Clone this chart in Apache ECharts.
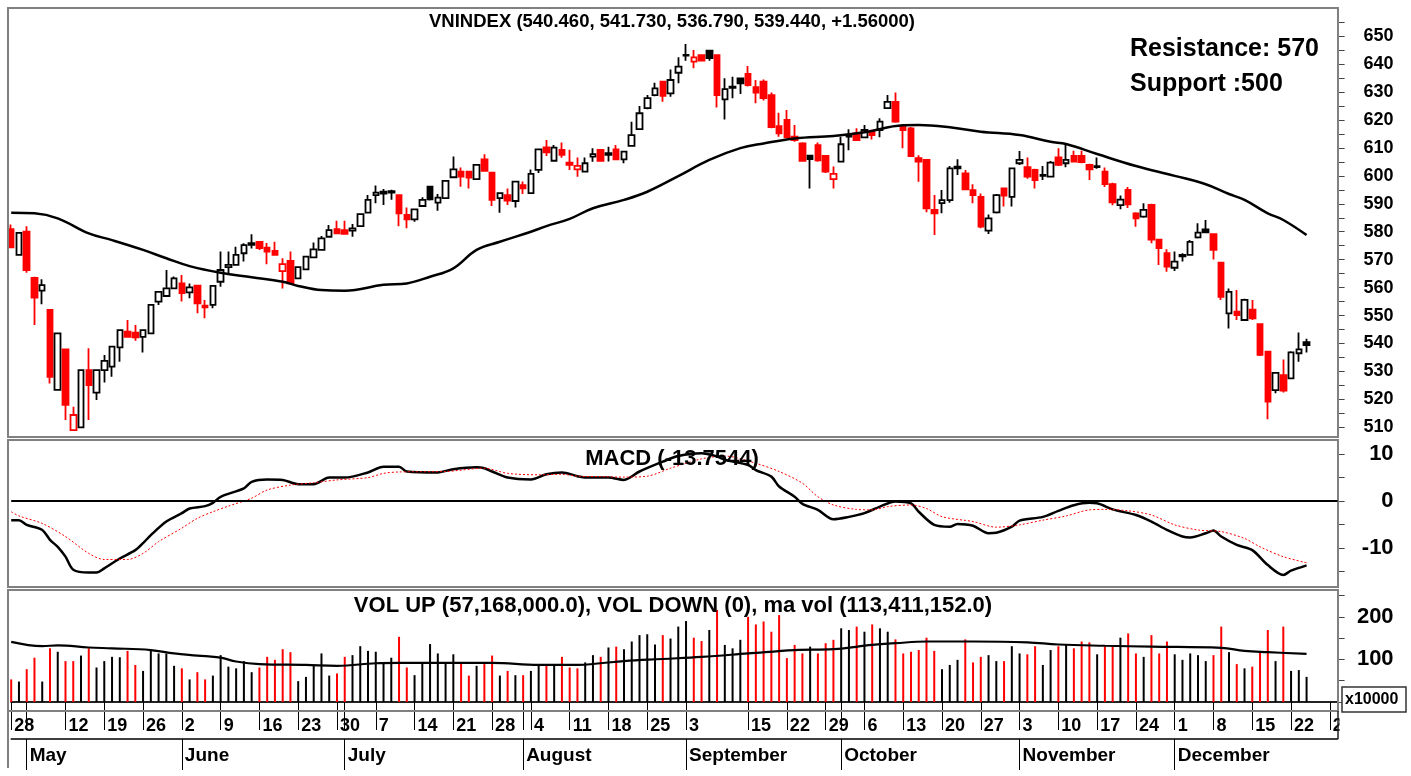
<!DOCTYPE html>
<html>
<head>
<meta charset="utf-8">
<script src="https://cdn.jsdelivr.net/npm/echarts@6/dist/echarts.min.js"></script>
<style>
  html, body { margin: 0; padding: 0; background: #fff; }
  #chart { width: 1411px; height: 776px; }
</style>
</head>
<body>
<div id="chart"></div>
<script>
// trading days per month (2014), last four of December are empty slots on the axis
const daysApr = [28, 29]
const daysMay = [5, 6, 7, 8, 9, 12, 13, 14, 15, 16, 19, 20, 21, 22, 23, 26, 27, 28, 29, 30]
const daysJun = [2, 3, 4, 5, 6, 9, 10, 11, 12, 13, 16, 17, 18, 19, 20, 23, 24, 25, 26, 27, 30]
const daysJul = [1, 2, 3, 4, 7, 8, 9, 10, 11, 14, 15, 16, 17, 18, 21, 22, 23, 24, 25, 28, 29, 30, 31]
const daysAug = [1, 4, 5, 6, 7, 8, 11, 12, 13, 14, 15, 18, 19, 20, 21, 22, 25, 26, 27, 28, 29]
const daysSep = [3, 4, 5, 8, 9, 10, 11, 12, 15, 16, 17, 18, 19, 22, 23, 24, 25, 26, 29, 30]
const daysOct = [1, 2, 3, 6, 7, 8, 9, 10, 13, 14, 15, 16, 17, 20, 21, 22, 23, 24, 27, 28, 29, 30, 31]
const daysNov = [3, 4, 5, 6, 7, 10, 11, 12, 13, 14, 17, 18, 19, 20, 21, 24, 25, 26, 27, 28]
const daysDec = [1, 2, 3, 4, 5, 8, 9, 10, 11, 12, 15, 16, 17, 18, 19, 22, 23, 24, 25, 26, 29, 30]

// week labels and month labels shown under the volume panel
const weekTicks = ['04-28', '05-12', '05-19', '05-26', '06-02', '06-09', '06-16', '06-23', '06-30',
  '07-07', '07-14', '07-21', '07-28', '08-04', '08-11', '08-18', '08-25', '09-03', '09-15', '09-22',
  '09-29', '10-06', '10-13', '10-20', '10-27', '11-03', '11-10', '11-17', '11-24', '12-01', '12-08',
  '12-15', '12-22', '12-29']
const monthTicks = ['05-05', '06-02', '07-01', '08-01', '09-03', '10-01', '11-03', '12-01']
const monthNames = ['May', 'June', 'July', 'August', 'September', 'October', 'November', 'December']

// OHLC
const openVals = [580.9, 571.7, 580.0, 563.5, 558.9, 552.0, 523.4, 537.9, 509.0, 510.0,
  530.5, 522.4, 530.5, 531.7, 538.6, 544.2, 543.9, 542.4, 543.6, 555.0,
  557.0, 559.7, 561.5, 558.3, 560.7, 553.5, 553.8, 562.1, 567.3, 568.1,
  572.3, 575.9, 576.4, 574.3, 573.1, 565.9, 569.6, 563.3, 566.5, 570.8,
  573.5, 578.2, 580.9, 580.6, 580.4, 582.0, 586.8, 593.1, 593.6, 594.0,
  593.1, 586.0, 584.4, 589.2, 596.1, 590.4, 592.0, 599.5, 601.5, 601.5,
  598.8, 605.9, 601.1, 592.0, 593.1, 591.0, 596.7, 593.8, 602.1, 610.2,
  605.4, 609.3, 604.7, 602.3, 601.5, 606.9, 609.3, 607.5, 609.5, 605.9,
  610.7, 616.7, 624.2, 628.9, 633.7, 629.5, 636.9, 643.0, 640.9, 643.2,
  644.8, 643.2, 627.4, 631.5, 634.9, 636.5, 631.7, 633.7, 628.9, 617.8,
  620.0, 614.0, 611.6, 607.2, 611.0, 607.1, 598.8, 605.1, 614.0, 615.2,
  613.8, 616.0, 616.4, 624.2, 626.5, 617.8, 617.0, 606.3, 605.7, 587.8,
  590.2, 591.3, 602.7, 600.9, 594.9, 592.5, 580.4, 586.9, 595.5, 592.5,
  604.5, 603.1, 602.1, 600.0, 599.7, 606.6, 604.5, 607.1, 607.1, 603.9,
  603.1, 601.5, 597.0, 589.5, 595.0, 586.6, 585.4, 589.6, 577.2, 572.3,
  567.1, 571.2, 571.7, 578.0, 580.8, 579.1, 568.9, 550.8, 551.4, 548.4,
  552.1, 546.9, 537.1, 523.3, 528.7, 527.5, 536.5, 540.46]
const highVals = [582.6, 579.8, 582.0, 563.9, 563.0, 552.3, 543.8, 538.1, 517.4, 530.7,
  538.3, 530.7, 535.9, 539.1, 545.0, 548.4, 546.6, 545.0, 554.0, 558.7,
  566.3, 564.0, 564.5, 561.5, 561.0, 555.6, 560.8, 572.9, 572.9, 574.6,
  575.9, 579.1, 576.6, 576.0, 576.4, 570.5, 572.9, 567.5, 571.3, 576.1,
  578.5, 582.4, 583.9, 583.9, 582.8, 586.5, 593.1, 596.5, 595.3, 595.0,
  593.4, 588.7, 588.2, 592.3, 596.3, 593.5, 598.4, 606.9, 603.0, 601.7,
  604.1, 607.7, 601.3, 594.0, 595.5, 598.1, 598.0, 602.3, 609.7, 612.8,
  611.0, 611.9, 609.3, 606.6, 606.6, 609.9, 609.5, 610.4, 611.0, 608.9,
  619.4, 625.0, 628.9, 633.3, 633.9, 638.1, 642.4, 647.2, 645.0, 643.5,
  645.0, 643.5, 634.9, 635.5, 635.2, 639.3, 634.3, 634.5, 629.8, 622.6,
  623.6, 618.2, 612.0, 607.2, 611.9, 607.5, 603.3, 614.0, 616.7, 617.0,
  618.2, 616.5, 620.6, 628.9, 629.8, 618.5, 617.5, 607.4, 606.0, 593.1,
  594.9, 603.5, 605.9, 602.1, 597.0, 593.7, 586.2, 593.5, 595.8, 603.0,
  608.9, 606.6, 602.5, 603.5, 605.3, 609.9, 611.0, 609.0, 609.0, 604.3,
  606.6, 603.0, 597.5, 593.0, 596.0, 587.0, 590.2, 590.0, 577.5, 573.7,
  572.9, 572.3, 577.0, 583.0, 584.2, 579.4, 569.2, 559.7, 559.1, 556.0,
  555.6, 547.2, 537.4, 529.7, 534.3, 537.2, 543.9, 541.73]
const lowVals = [574.2, 571.5, 565.3, 546.6, 554.0, 525.7, 523.2, 512.6, 508.8, 509.8,
  512.6, 519.8, 526.0, 528.1, 533.5, 542.2, 541.0, 536.8, 543.4, 553.8,
  556.8, 559.5, 555.0, 556.2, 550.8, 549.0, 552.6, 560.3, 565.1, 567.9,
  569.3, 574.0, 573.5, 568.4, 571.5, 559.7, 561.3, 563.1, 566.3, 570.6,
  573.3, 578.0, 579.2, 579.0, 578.2, 581.8, 586.6, 590.2, 589.6, 591.4,
  582.0, 581.2, 583.6, 589.0, 591.2, 587.5, 591.8, 599.3, 596.1, 595.5,
  598.6, 601.6, 589.2, 586.8, 589.6, 588.7, 593.5, 593.6, 601.0, 607.1,
  605.2, 606.5, 602.1, 599.7, 601.3, 605.0, 605.2, 605.1, 605.7, 604.5,
  610.4, 616.4, 623.8, 628.5, 626.5, 628.3, 633.1, 641.2, 638.5, 641.0,
  641.2, 624.5, 620.2, 627.8, 629.3, 632.0, 626.0, 627.0, 617.0, 614.0,
  613.5, 612.2, 605.0, 595.5, 605.0, 601.0, 595.5, 605.0, 609.2, 612.5,
  613.5, 613.0, 613.8, 624.0, 619.0, 609.9, 606.8, 597.9, 587.0, 578.8,
  586.6, 590.4, 600.3, 595.0, 590.2, 581.2, 579.2, 586.5, 589.0, 589.0,
  603.9, 599.0, 595.5, 598.5, 599.5, 603.5, 603.1, 604.8, 604.5, 598.5,
  602.5, 596.0, 589.5, 588.0, 588.5, 581.8, 585.0, 575.9, 568.1, 565.7,
  565.9, 569.3, 571.5, 577.6, 579.5, 570.1, 555.6, 545.4, 548.4, 548.2,
  548.4, 535.5, 512.9, 522.2, 522.5, 527.3, 533.5, 536.79]
const closeVals = [574.4, 579.6, 566.3, 556.4, 560.9, 528.1, 543.6, 518.0, 514.4, 530.5,
  525.1, 530.5, 533.8, 538.9, 544.8, 542.4, 542.2, 544.8, 553.8, 558.5,
  559.7, 563.3, 558.0, 560.1, 554.4, 552.9, 560.6, 566.3, 568.1, 571.7,
  575.2, 575.3, 574.1, 572.9, 571.7, 568.4, 561.5, 567.3, 571.1, 573.7,
  577.6, 580.6, 579.4, 579.2, 581.2, 586.3, 591.4, 594.0, 594.3, 594.5,
  586.6, 584.4, 588.0, 591.4, 591.6, 592.2, 598.2, 602.3, 599.7, 599.4,
  603.9, 601.8, 591.4, 593.8, 591.1, 597.9, 595.5, 600.7, 609.5, 608.4,
  610.1, 607.5, 603.9, 603.6, 604.5, 607.8, 605.4, 608.1, 605.9, 608.7,
  614.6, 622.4, 627.8, 631.3, 628.6, 634.3, 639.1, 643.3, 642.4, 641.2,
  642.1, 628.9, 631.0, 631.9, 633.1, 632.5, 629.8, 627.8, 617.4, 615.2,
  613.8, 612.8, 605.4, 606.0, 605.5, 601.5, 600.7, 611.3, 614.6, 612.8,
  616.4, 614.6, 619.4, 626.5, 619.4, 616.4, 607.1, 605.1, 588.4, 586.6,
  591.3, 602.7, 603.3, 595.2, 593.1, 581.8, 584.8, 593.1, 592.9, 602.7,
  605.7, 599.7, 598.5, 600.3, 604.7, 603.9, 605.7, 605.1, 604.9, 602.3,
  603.5, 597.0, 590.5, 591.5, 589.8, 584.8, 587.8, 577.2, 574.1, 567.5,
  569.3, 571.7, 576.4, 579.7, 579.8, 573.5, 556.7, 558.5, 550.2, 555.6,
  549.0, 535.9, 519.2, 529.5, 523.1, 536.8, 537.88, 539.44]

// volume (x 1,000,000 shares)
const volVals = [53, 48, 77, 104, 48, 126, 118, 96, 96, 109,
  126, 81, 96, 106, 105, 120, 87, 73, 124, 114,
  114, 85, 79, 53, 70, 53, 62, 110, 83, 79,
  96, 70, 81, 106, 99, 124, 117, 49, 59, 85,
  114, 62, 67, 106, 110, 131, 120, 118, 93, 104,
  153, 81, 63, 93, 136, 114, 92, 112, 93, 62,
  85, 89, 109, 62, 73, 63, 63, 73, 85, 85,
  87, 106, 81, 79, 93, 110, 106, 128, 130, 124,
  142, 157, 159, 135, 157, 149, 177, 190, 151, 143,
  169, 216, 134, 126, 146, 200, 182, 189, 165, 204,
  103, 134, 114, 130, 114, 138, 146, 173, 169, 177,
  165, 182, 173, 165, 147, 114, 118, 122, 151, 120,
  77, 87, 99, 147, 93, 106, 110, 96, 96, 131,
  114, 112, 131, 87, 122, 131, 134, 126, 142, 140,
  112, 131, 130, 151, 161, 114, 106, 157, 114, 142,
  112, 99, 114, 110, 96, 110, 177, 117, 89, 79,
  83, 118, 169, 96, 177, 73, 75, 59]

// moving average of the index, read as [day index, value]
const maPoints = [[0, 586.8], [3, 586.6], [6, 584.8], [10, 579.4], [13, 577.0], [17, 573.5],
  [20, 570.5], [23, 567.7], [27, 565.3], [31, 563.7], [35, 562.1], [37, 560.6], [40, 559.1],
  [43, 558.9], [48, 561.0], [51, 561.5], [54, 563.9], [57, 566.9], [60, 573.5], [63, 576.4],
  [67, 580.0], [69, 582.0], [72, 584.6], [75, 588.4], [79, 591.4], [82, 594.3], [86, 599.9],
  [90, 605.7], [94, 609.9], [97, 611.6], [101, 613.4], [106, 614.3], [110, 615.6], [115, 618.1],
  [117, 618.2], [121, 617.4], [125, 615.8], [130, 614.6], [134, 612.2], [136, 611.4],
  [140, 607.8], [145, 603.5], [150, 600.0], [154, 597.0], [157, 593.5], [159, 591.4],
  [162, 586.6], [164, 584.2], [167, 578.8]]

// MACD line and its signal, read as [day index, value]
const macdPoints = [[0, -4.1], [1, -4.1], [2, -5.1], [4, -6.2], [5, -8.3], [6, -9.8], [7, -11.9],
  [8, -14.7], [10, -15.3], [11, -15.3], [12, -14.4], [14, -12.3], [16, -10.5], [17, -9.0],
  [18, -7.3], [20, -4.4], [22, -2.6], [23, -1.6], [25, -1.1], [26, -0.4], [27, 0.9], [30, 2.7],
  [31, 4.1], [33, 4.6], [35, 4.5], [37, 3.6], [39, 3.6], [41, 5.0], [43, 5.0], [46, 6.1],
  [48, 7.3], [50, 7.3], [51, 6.3], [55, 6.1], [57, 6.8], [60, 7.2], [61, 7.0], [62, 6.3],
  [64, 5.0], [67, 4.6], [69, 5.7], [71, 6.1], [73, 5.3], [74, 5.0], [77, 5.0], [79, 4.5],
  [81, 6.3], [84, 8.4], [86, 9.6], [89, 10.2], [91, 9.5], [92, 8.8], [95, 7.7], [96, 6.6],
  [98, 5.2], [99, 3.1], [101, 0.9], [102, -0.6], [104, -1.9], [106, -3.9], [108, -3.4],
  [110, -2.6], [112, -1.2], [114, -0.1], [116, -0.5], [117, -2.3], [119, -5.1], [121, -5.5],
  [122, -4.9], [124, -5.3], [126, -6.9], [127, -6.8], [129, -5.5], [130, -4.2], [133, -3.4],
  [135, -2.1], [137, -0.9], [139, -0.4], [140, -0.5], [142, -1.8], [145, -3.0], [147, -4.4],
  [149, -6.2], [151, -7.6], [152, -7.8], [154, -6.9], [155, -6.3], [156, -7.6], [158, -9.4],
  [160, -10.5], [162, -13.7], [164, -15.8], [165, -14.9], [167, -13.75]]
const signalPoints = [[0, -2.3], [1, -3.2], [4, -4.8], [7, -7.6], [10, -11.2], [12, -12.5],
  [15, -12.5], [17, -11.2], [19, -8.7], [22, -5.8], [24, -3.7], [26, -2.3], [28, -1.1],
  [31, 0.6], [33, 2.35], [36, 3.4], [39, 3.9], [42, 4.5], [46, 5.0], [48, 5.9], [50, 6.2],
  [56, 6.3], [61, 7.0], [64, 5.9], [68, 5.6], [71, 5.7], [73, 5.3], [76, 5.2], [79, 5.1],
  [82, 5.3], [85, 7.0], [89, 9.0], [92, 9.6], [96, 8.05], [99, 6.3], [102, 3.8], [104, 0.9],
  [106, -0.85], [109, -1.8], [111, -1.9], [113, -1.2], [116, -0.85], [118, -1.6], [120, -3.35],
  [124, -4.4], [127, -5.6], [130, -5.1], [133, -4.1], [136, -3.2], [139, -1.9], [141, -1.8],
  [144, -2.1], [147, -3.0], [150, -5.1], [153, -6.2], [156, -6.55], [159, -8.0], [161, -9.8],
  [164, -11.9], [167, -13.2]]

// moving average of volume, read as [day index, value]
const volMaPoints = [[0, 141], [4, 131], [6, 133], [10, 128], [13, 126], [18, 122], [21, 114],
  [24, 109], [27, 104], [29, 95], [32, 89], [38, 87], [42, 85], [47, 91], [50, 92], [56, 92],
  [62, 92], [68, 87], [73, 87], [76, 91], [79, 96], [84, 101], [89, 106], [95, 114], [101, 122],
  [106, 124], [111, 134], [114, 138], [118, 142], [124, 142], [131, 140], [135, 135],
  [141, 132], [147, 130], [156, 127], [159, 120], [162, 117], [167, 113]]

const priceLabels = [510, 520, 530, 540, 550, 560, 570, 580, 590, 600, 610, 620, 630, 640, 650]
const priceTicks = [510, 515, 520, 525, 530, 535, 540, 545, 550, 555, 560, 565, 570, 575, 580,
  585, 590, 595, 600, 605, 610, 615, 620, 625, 630, 635, 640, 645, 650, 655]
const macdLabels = [-10, 0, 10]
const macdTicks = [-15, -10, -5, 0, 5, 10]
const volLabels = [100, 200]
const volTicks = [0, 50, 100, 150, 200, 250]

const RED = '#ff0000'
const BLACK = '#000000'
const FONT = '"Liberation Sans", Arial, sans-serif'

const pad = n => (n < 10 ? '0' + n : '' + n)
const dates = []
;[[4, daysApr], [5, daysMay], [6, daysJun], [7, daysJul], [8, daysAug], [9, daysSep],
  [10, daysOct], [11, daysNov], [12, daysDec]].forEach(([m, list]) => {
  list.forEach(d => dates.push(pad(m) + '-' + pad(d)))
})

const weekSet = new Set(weekTicks)
const monthSet = new Set(monthTicks)

// red when the close is below the previous close, hollow when close is above open
const candleData = closeVals.map((c, i) => {
  const o = openVals[i]
  const prev = i > 0 ? closeVals[i - 1] : o
  const col = c < prev ? RED : BLACK
  const fill = c > o ? '#ffffff' : col
  return {
    value: [o, c, lowVals[i], highVals[i]],
    itemStyle: { color: fill, color0: fill, borderColor: col, borderColor0: col }
  }
})
const volData = volVals.map((v, i) => {
  const prev = i > 0 ? closeVals[i - 1] : openVals[i]
  return { value: v, itemStyle: { color: closeVals[i] < prev ? RED : BLACK } }
})

const gridBase = { left: 11.2, right: 73.4 }
const yLabelStyle = size => ({
  fontSize: size, fontWeight: 'bold', fontFamily: FONT, color: '#000',
  align: 'right', margin: 56
})
const yAxisBase = {
  type: 'value', position: 'right', scale: true,
  axisLine: { show: true, lineStyle: { color: '#808080', width: 2 } },
  splitLine: { show: false }
}

const chart = echarts.init(document.getElementById('chart'))
chart.setOption({
  animation: false,
  backgroundColor: '#fff',
  grid: [
    { ...gridBase, top: 8, height: 429 },
    { ...gridBase, top: 440, height: 147 },
    { ...gridBase, top: 590, height: 121 }
  ],
  xAxis: [
    { type: 'category', gridIndex: 0, data: dates, boundaryGap: false, show: false },
    { type: 'category', gridIndex: 1, data: dates, boundaryGap: false, show: false },
    {
      type: 'category', gridIndex: 2, position: 'bottom', data: dates, boundaryGap: false,
      axisLine: { lineStyle: { color: '#222', width: 2 } },
      axisTick: {
        interval: (i, v) => weekSet.has(v) || monthSet.has(v),
        length: 28, lineStyle: { color: '#000', width: 1 }
      },
      axisLabel: {
        interval: (i, v) => weekSet.has(v),
        formatter: v => String(+v.slice(3)),
        align: 'left', verticalAlign: 'middle', margin: 15, padding: [0, 0, 0, 3],
        fontSize: 18, fontWeight: 'bold', fontFamily: FONT, color: '#000'
      }
    },
    {
      type: 'category', gridIndex: 2, position: 'bottom', data: dates, boundaryGap: false, offset: 28,
      axisLine: { lineStyle: { color: '#000', width: 1.5 } },
      axisTick: {
        interval: (i, v) => monthSet.has(v),
        length: 31, lineStyle: { color: '#000', width: 1 }
      },
      axisLabel: {
        interval: (i, v) => monthSet.has(v),
        formatter: v => monthNames[monthTicks.indexOf(v)] || '',
        align: 'left', verticalAlign: 'middle', margin: 17, padding: [0, 0, 0, 3],
        fontSize: 19, fontWeight: 'bold', fontFamily: FONT, color: '#000'
      }
    }
  ],
  yAxis: [
    {
      ...yAxisBase, gridIndex: 0, min: 506.53, max: 660.07,
      axisTick: { show: true, customValues: priceTicks, length: 7, lineStyle: { color: '#444' } },
      axisLabel: { ...yLabelStyle(18), customValues: priceLabels }
    },
    {
      ...yAxisBase, gridIndex: 1, min: -18.38, max: 13.03,
      axisTick: { show: true, customValues: macdTicks, length: 7, lineStyle: { color: '#444' } },
      axisLabel: { ...yLabelStyle(22), customValues: macdLabels }
    },
    {
      ...yAxisBase, gridIndex: 2, min: -21.1, max: 262.9,
      axisTick: { show: true, customValues: volTicks, length: 7, lineStyle: { color: '#444' } },
      axisLabel: { ...yLabelStyle(22), customValues: volLabels }
    }
  ],
  series: [
    {
      name: 'VNINDEX', type: 'candlestick', xAxisIndex: 0, yAxisIndex: 0,
      data: candleData, barWidth: 6, clip: false,
      itemStyle: { borderWidth: 1.8 }
    },
    {
      name: 'MA', type: 'line', xAxisIndex: 0, yAxisIndex: 0, data: maPoints,
      smooth: 0.4, showSymbol: false, lineStyle: { color: '#000', width: 2.5 }
    },
    {
      name: 'MACD', type: 'line', xAxisIndex: 1, yAxisIndex: 1, data: macdPoints,
      smooth: 0.3, showSymbol: false, lineStyle: { color: '#000', width: 2.5 },
      markLine: {
        silent: true, symbol: 'none', label: { show: false },
        lineStyle: { color: '#000', width: 2, type: 'solid' },
        data: [{ yAxis: 0 }]
      }
    },
    {
      name: 'Signal', type: 'line', xAxisIndex: 1, yAxisIndex: 1, data: signalPoints,
      smooth: 0.3, showSymbol: false, lineStyle: { color: RED, width: 1, type: [2, 2] }
    },
    {
      name: 'VOL', type: 'bar', xAxisIndex: 2, yAxisIndex: 2, data: volData,
      barWidth: 2, clip: false
    },
    {
      name: 'ma vol', type: 'line', xAxisIndex: 2, yAxisIndex: 2, data: volMaPoints,
      smooth: 0.4, showSymbol: false, lineStyle: { color: '#000', width: 2.2 }
    }
  ],
  graphic: [
    // panel frames
    { type: 'rect', shape: { x: 8, y: 8, width: 1330, height: 429 }, style: { fill: null, stroke: '#808080', lineWidth: 2 }, z: 5 },
    { type: 'rect', shape: { x: 8, y: 440, width: 1330, height: 147 }, style: { fill: null, stroke: '#808080', lineWidth: 2 }, z: 5 },
    { type: 'rect', shape: { x: 8, y: 590, width: 1330, height: 121 }, style: { fill: null, stroke: '#808080', lineWidth: 2 }, z: 5 },
    { type: 'line', shape: { x1: 8, y1: 711, x2: 8, y2: 768 }, style: { stroke: '#808080', lineWidth: 2 }, z: 5 },
    { type: 'line', shape: { x1: 1338, y1: 711, x2: 1338, y2: 739 }, style: { stroke: '#222', lineWidth: 1.5 }, z: 5 },
    // hide the overflow of the last day label
    { type: 'rect', shape: { x: 1339.5, y: 713, width: 72, height: 25 }, style: { fill: '#fff' }, z: 100 },
    // unit box
    { type: 'rect', shape: { x: 1342, y: 687, width: 64, height: 25 }, style: { fill: '#fff', stroke: '#333', lineWidth: 1.5 }, z: 101 },
    { type: 'text', x: 1345, y: 700, style: { text: 'x10000', fontSize: 16, fontWeight: 'bold', fontFamily: FONT, fill: '#000', verticalAlign: 'middle' }, z: 102 },
    // captions
    { type: 'text', x: 672, y: 22, style: { text: 'VNINDEX (540.460, 541.730, 536.790, 539.440, +1.56000)', fontSize: 18.5, fontWeight: 'bold', fontFamily: FONT, fill: '#000', align: 'center', verticalAlign: 'middle' }, z: 50 },
    { type: 'text', x: 1130, y: 49, style: { text: 'Resistance: 570', fontSize: 25, fontWeight: 'bold', fontFamily: FONT, fill: '#000', verticalAlign: 'middle' }, z: 50 },
    { type: 'text', x: 1130, y: 84, style: { text: 'Support :500', fontSize: 25, fontWeight: 'bold', fontFamily: FONT, fill: '#000', verticalAlign: 'middle' }, z: 50 },
    { type: 'text', x: 672, y: 459, style: { text: 'MACD (-13.7544)', fontSize: 22, fontWeight: 'bold', fontFamily: FONT, fill: '#000', align: 'center', verticalAlign: 'middle' }, z: 50 },
    { type: 'text', x: 673, y: 606, style: { text: 'VOL UP (57,168,000.0), VOL DOWN (0), ma vol (113,411,152.0)', fontSize: 22, fontWeight: 'bold', fontFamily: FONT, fill: '#000', align: 'center', verticalAlign: 'middle' }, z: 50 }
  ]
})
</script>
</body>
</html>
